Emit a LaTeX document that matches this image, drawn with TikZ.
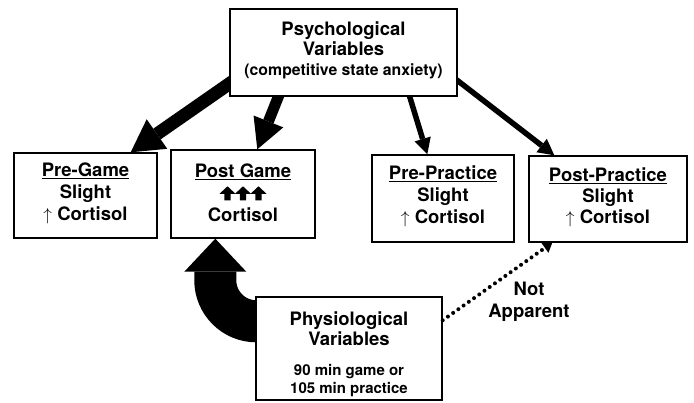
\documentclass[tikz,border=0pt]{standalone}
\usepackage{fontspec}
\setmainfont{TeX Gyre Heros}
\usetikzlibrary{arrows.meta,calc}
\pgfdeclarelayer{bg}
\pgfsetlayers{bg,main}
\begin{document}
\begin{tikzpicture}[x=1pt,y=-1pt,
  box/.style={draw, line width=1.4pt, fill=white, inner sep=0pt},
  txt/.style={inner sep=0pt, align=center, anchor=north, font=\fontsize{18.5}{22}\selectfont\bfseries},
  small/.style={inner sep=0pt, align=center, anchor=north, font=\fontsize{15}{18}\selectfont\bfseries},
  bigarrow/.style={line width=13pt, -{Triangle[length=32pt,width=36pt,line width=0pt]}},
  midarrow/.style={line width=11pt, -{Triangle[length=30pt,width=32pt,line width=0pt]}},
  thinarrow/.style={line width=5.5pt, -{Triangle[length=16pt,width=17pt,line width=0pt]}},
  dotarrow/.style={line width=4pt, line cap=round, dash pattern=on 0pt off 6.4pt, -{Triangle[length=9pt,width=12pt,line width=0pt]}},
  curvearrow/.style={line width=42pt, -{Triangle[length=33pt,width=62pt,line width=0pt]}}
]
\useasboundingbox (0,0) rectangle (694,403);

% boxes
\node[box, minimum width=227pt, minimum height=87pt] (top) at (343.5,52.5) {};
\node[box, minimum width=143pt, minimum height=85pt] (pregame) at (85.5,195.5) {};
\node[box, minimum width=144pt, minimum height=88pt] (postgame) at (243,194) {};
\node[box, minimum width=142pt, minimum height=87pt] (prepractice) at (443,198.5) {};
\node[box, minimum width=158pt, minimum height=86pt] (postpractice) at (608,199) {};
\node[box, minimum width=186pt, minimum height=103pt] (physio) at (349,348.5) {};

% texts
\node[txt, font=\fontsize{18.5}{20}\selectfont\bfseries] (toptext) at (343.5,22)
  {Psychological\\Variables\\{\fontsize{15.8}{20}\selectfont(competitive state anxiety)}};
\node[txt] (pregametext) at (85.5,163) {\underline{Pre-Game}\\Slight\\$\uparrow$ Cortisol};
\node[txt] (postgametext) at (243,164) {\underline{Post Game}\\\strut\\Cortisol};
\node[txt] (prepracticetext) at (443,166) {\underline{Pre-Practice}\\Slight\\$\uparrow$ Cortisol};
\node[txt, font=\fontsize{18.5}{21}\selectfont\bfseries] (postpracticetext) at (608,168) {\underline{Post-Practice}\\Slight\\$\uparrow$ Cortisol};
\node[txt, font=\fontsize{18.5}{20}\selectfont\bfseries] (physiotext) at (349,312) {Physiological\\Variables};
\node[small] (physiosmall) at (349,364) {90 min game or\\105 min practice};
\node[txt] (notapp) at (529,282) {Not\\Apparent};

% heavy triple arrows in Post Game
\foreach \dx in {-15.5,0,15.5}{
  \fill[shift={($(postgame.north)+(\dx,37)$)}]
    (0,0) -- (8,7.5) -- (3.2,7.5) -- (3.2,14) -- (-3.2,14) -- (-3.2,7.5) -- (-8,7.5) -- cycle;
}

% connectors
\coordinate (a1s) at ($(top.south west)+(0,-13)$);
\coordinate (a1e) at ($(pregame.north east)+(-27,0)$);
\coordinate (a2s) at ($(top.south west)+(49,0)$);
\coordinate (a2e) at ($(postgame.north west)+(87,0)$);
\coordinate (a3s) at ($(top.south east)+(-48,0)$);
\coordinate (a3e) at ($(prepractice.north west)+(56,0)$);
\coordinate (a4s) at ($(top.south east)+(0,-16)$);
\coordinate (a4e) at ($(postpractice.north west)+(26,0)$);
\coordinate (ds) at ($(physio.north east)+(0,24)$);
\coordinate (de) at ($(postpractice.south west)+(24,0)$);
\coordinate (cs) at ($(physio.north west)+(1,25)$);
\coordinate (ce) at ($(postgame.south west)+(45,0)$);

\begin{pgfonlayer}{bg}
\draw[bigarrow] ($(a1s)!-15pt!(a1e)$) -- (a1e);
\draw[midarrow] ($(a2s)!-10pt!(a2e)$) -- (a2e);
\draw[thinarrow] ($(a3s)!-10pt!(a3e)$) -- (a3e);
\draw[thinarrow] ($(a4s)!-10pt!(a4e)$) -- (a4e);
\draw[curvearrow] (cs) arc[start angle=270, end angle=180, radius=41pt] -- (ce);
\end{pgfonlayer}
\draw[dotarrow] (ds) -- (de);
\end{tikzpicture}
\end{document}
